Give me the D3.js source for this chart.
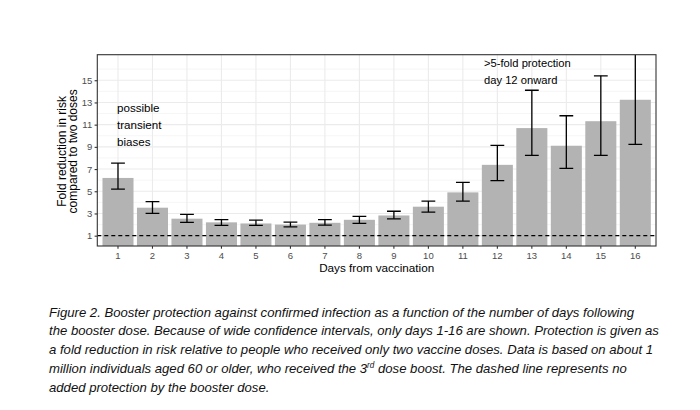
<!DOCTYPE html>
<html>
<head>
<meta charset="utf-8">
<script src="https://cdn.jsdelivr.net/npm/d3@7"></script>
<style>
  body { margin: 0; background: #fff; }
  svg { display: block; font-family: "Liberation Sans", Arial, sans-serif; }
</style>
</head>
<body>
<div id="chart"></div>
<script>
// days after the booster and fold reduction (with CI)
const days = ["1","2","3","4","5","6","7","8","9","10","11","12","13","14","15","16"];
const foldReduction = [6.2, 3.52, 2.53, 2.2, 2.1, 2.0, 2.16, 2.43, 2.82, 3.61, 4.9, 7.38, 10.69, 9.1, 11.31, 13.24];
const lower = [5.2, 3.01, 2.2, 1.93, 1.92, 1.8, 1.95, 2.1, 2.52, 3.13, 4.12, 5.95, 8.23, 7.06, 8.23, 9.22];
const upper = [7.54, 4.06, 2.92, 2.44, 2.4, 2.22, 2.45, 2.73, 3.2, 4.12, 5.8, 9.13, 14.1, 11.8, 15.4, 18.6];
const yTicks = [1, 3, 5, 7, 9, 11, 13, 15];
const yMinor = [2, 4, 6, 8, 10, 12, 14, 16];

const captionLines = [
  "Figure 2. Booster protection against confirmed infection as a function of the number of days following",
  "the booster dose. Because of wide confidence intervals, only days 1-16 are shown. Protection is given as",
  "a fold reduction in risk relative to people who received only two vaccine doses. Data is based on about 1",
  ["million individuals aged 60 or older, who received the 3", "rd", " dose boost. The dashed line represents no"],
  "added protection by the booster dose."
];

const W = 700, H = 410;
const panel = { left: 97.3, right: 656, top: 54.7, bottom: 246 };

const svg = d3.select("#chart").append("svg")
  .attr("width", W).attr("height", H);

svg.append("rect").attr("width", W).attr("height", H).attr("fill", "#fff");

const x = d3.scaleBand()
  .domain(days)
  .range([panel.left, panel.right])
  .paddingInner(0.1)
  .paddingOuter(0.15);

const y = d3.scaleLinear()
  .domain([0.07, 17.3])
  .range([panel.bottom, panel.top]);

const step = x.step();
const cx = d => x(d) + x.bandwidth() / 2;

svg.append("clipPath").attr("id", "clip")
  .append("rect")
  .attr("x", panel.left).attr("y", panel.top)
  .attr("width", panel.right - panel.left)
  .attr("height", panel.bottom - panel.top);

const g = svg.append("g").attr("clip-path", "url(#clip)");

// grid
g.selectAll(".minor").data(yMinor).enter().append("line")
  .attr("x1", panel.left).attr("x2", panel.right)
  .attr("y1", d => y(d)).attr("y2", d => y(d))
  .attr("stroke", "#f0f0f0").attr("stroke-width", 0.6);

g.selectAll(".major").data(yTicks).enter().append("line")
  .attr("x1", panel.left).attr("x2", panel.right)
  .attr("y1", d => y(d)).attr("y2", d => y(d))
  .attr("stroke", "#ebebeb").attr("stroke-width", 1.1);

g.selectAll(".vgrid").data(days).enter().append("line")
  .attr("x1", cx).attr("x2", cx)
  .attr("y1", panel.top).attr("y2", panel.bottom)
  .attr("stroke", "#ebebeb").attr("stroke-width", 1.1);

// bars
g.selectAll(".bar").data(days).enter().append("rect")
  .attr("x", d => x(d))
  .attr("width", x.bandwidth())
  .attr("y", (d, i) => y(foldReduction[i]))
  .attr("height", (d, i) => y(0) - y(foldReduction[i]))
  .attr("fill", "#b3b3b3");

// error bars
const cap = step * 0.2;
const eb = g.selectAll(".err").data(days).enter().append("g");
eb.append("line")
  .attr("x1", cx).attr("x2", cx)
  .attr("y1", (d, i) => y(lower[i])).attr("y2", (d, i) => y(upper[i]))
  .attr("stroke", "#000").attr("stroke-width", 1.3);
eb.append("line")
  .attr("x1", d => cx(d) - cap).attr("x2", d => cx(d) + cap)
  .attr("y1", (d, i) => y(lower[i])).attr("y2", (d, i) => y(lower[i]))
  .attr("stroke", "#000").attr("stroke-width", 1.3);
eb.append("line")
  .attr("x1", d => cx(d) - cap).attr("x2", d => cx(d) + cap)
  .attr("y1", (d, i) => y(upper[i])).attr("y2", (d, i) => y(upper[i]))
  .attr("stroke", "#000").attr("stroke-width", 1.3);

// no added protection line
g.append("line")
  .attr("x1", panel.left).attr("x2", panel.right)
  .attr("y1", y(1)).attr("y2", y(1))
  .attr("stroke", "#000").attr("stroke-width", 1.1)
  .attr("stroke-dasharray", "4,3");

// annotations
const note1 = ["possible", "transient", "biases"];
svg.selectAll(".note1").data(note1).enter().append("text")
  .attr("x", cx("1") - 1)
  .attr("y", (d, i) => 112.3 + i * 16.7)
  .attr("font-size", 11.6).attr("fill", "#000")
  .text(d => d);

const note2 = [">5-fold protection", "day 12 onward"];
svg.selectAll(".note2").data(note2).enter().append("text")
  .attr("x", 484)
  .attr("y", (d, i) => 67.3 + i * 17)
  .attr("font-size", 11.2).attr("fill", "#000")
  .text(d => d);

// panel border
svg.append("rect")
  .attr("x", panel.left).attr("y", panel.top)
  .attr("width", panel.right - panel.left)
  .attr("height", panel.bottom - panel.top)
  .attr("fill", "none").attr("stroke", "#333").attr("stroke-width", 1.1);

// axes
const yAxis = svg.append("g")
  .attr("transform", `translate(${panel.left},0)`)
  .call(d3.axisLeft(y).tickValues(yTicks).tickSize(2.7).tickPadding(2.4));
const xAxis = svg.append("g")
  .attr("transform", `translate(0,${panel.bottom})`)
  .call(d3.axisBottom(x).tickSize(2.7).tickPadding(3.3));
[yAxis, xAxis].forEach(a => {
  a.select(".domain").remove();
  a.selectAll(".tick line").attr("stroke", "#333").attr("stroke-width", 1.1);
  a.selectAll(".tick text").attr("fill", "#4d4d4d")
    .attr("font-size", 9.5).attr("font-family", "Liberation Sans, Arial, sans-serif");
});

// axis titles
svg.append("text")
  .attr("x", (panel.left + panel.right) / 2).attr("y", 271.7)
  .attr("text-anchor", "middle").attr("font-size", 11.7)
  .text("Days from vaccination");

const yTitle = svg.append("text")
  .attr("transform", `translate(66.3,${(panel.top + panel.bottom) / 2 + 1}) rotate(-90)`)
  .attr("text-anchor", "middle").attr("font-size", 12);
yTitle.append("tspan").attr("x", 0).attr("dy", 0).text("Fold reduction in risk");
yTitle.append("tspan").attr("x", 0).attr("dy", 11).text("compared to two doses");

// caption
const capG = svg.append("g").attr("font-style", "italic").attr("font-size", 12.6).attr("fill", "#111");
const capTexts = captionLines.map((line, i) => {
  const t = capG.append("text").attr("x", 49).attr("y", 316.7 + i * 18.75);
  if (Array.isArray(line)) {
    t.append("tspan").text(line[0]);
    t.append("tspan").attr("class", "sup").attr("font-size", 8).attr("dy", -5).text(line[1]);
    t.append("tspan").attr("dy", 5).text(line[2]);
  } else {
    t.text(line);
  }
  return t;
});
// fit caption font so the second line spans the same width as in the figure
const len2 = capTexts[1].node().getComputedTextLength();
const capSize = 12.6 * 610 / len2;
capG.attr("font-size", capSize);
capG.selectAll(".sup").attr("font-size", capSize * 0.62);
</script>
</body>
</html>
